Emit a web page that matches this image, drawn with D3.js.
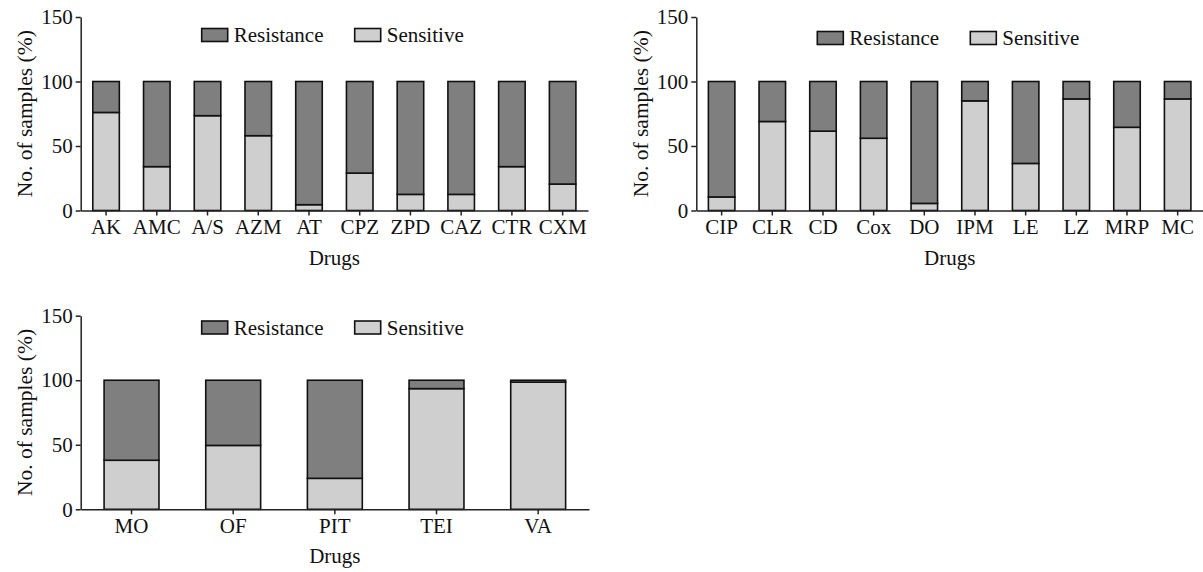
<!DOCTYPE html>
<html>
<head>
<meta charset="utf-8">
<script src="https://cdn.jsdelivr.net/npm/d3@7"></script>
<style>
body { margin: 0; background: #fff; }
svg text { font-family: "Liberation Serif", "Times New Roman", serif; fill: #111; }
</style>
</head>
<body>
<script>
// drugs for each panel
var drugsA = ["AK", "AMC", "A/S", "AZM", "AT", "CPZ", "ZPD", "CAZ", "CTR", "CXM"];
var sensA  = [76, 34, 73.5, 58, 4.5, 29, 12.5, 12.5, 34, 20.5];
var resA   = [24, 66, 26.5, 42, 95.5, 71, 87.5, 87.5, 66, 79.5];

var drugsB = ["CIP", "CLR", "CD", "Cox", "DO", "IPM", "LE", "LZ", "MRP", "MC"];
var sensB  = [10.5, 69, 61.5, 56, 5.5, 85, 36.5, 86.5, 64.5, 86.5];
var resB   = [89.5, 31, 38.5, 44, 94.5, 15, 63.5, 13.5, 35.5, 13.5];

var drugsC = ["MO", "OF", "PIT", "TEI", "VA"];
var sensC  = [38, 49.5, 24, 93.5, 98.5];
var resC   = [62, 50.5, 76, 6.5, 1.5];

var yTicks = [0, 50, 100, 150];
var seriesNames = ["Resistance", "Sensitive"];
var colors = { Resistance: "#7f7f7f", Sensitive: "#cfcfcf" };

var W = 1203, H = 572;
var svg = d3.select("body").append("svg")
	.attr("width", W)
	.attr("height", H);

function panel(opt) {
	var g = svg.append("g");
	var x = d3.scaleBand()
		.domain(opt.drugs)
		.range([opt.x0, opt.x1])
		.paddingInner(opt.pad)
		.paddingOuter(opt.pad / 2);
	var y = d3.scaleLinear().domain([0, 150]).range([opt.y0, opt.y1]);

	var rows = opt.drugs.map(function(d, i) {
		return { drug: d, Sensitive: opt.sens[i], Resistance: opt.res[i] };
	});
	var stacked = d3.stack().keys(["Sensitive", "Resistance"])(rows);

	g.selectAll("g.layer")
		.data(stacked)
		.enter()
		.append("g")
		.attr("fill", function(s) { return colors[s.key]; })
		.selectAll("rect")
		.data(function(s) { return s; })
		.enter()
		.append("rect")
		.attr("x", function(d) { return x(d.data.drug); })
		.attr("y", function(d) { return y(d[1]); })
		.attr("width", x.bandwidth())
		.attr("height", function(d) { return y(d[0]) - y(d[1]); })
		.attr("stroke", "#111")
		.attr("stroke-width", 1.6);

	var ya = g.append("g")
		.attr("transform", "translate(" + opt.x0 + ",0)")
		.call(d3.axisLeft(y).tickValues(yTicks).tickSize(5).tickSizeOuter(0).tickPadding(3));
	ya.selectAll("text").attr("font-size", "21px");

	var xa = g.append("g")
		.attr("transform", "translate(0," + opt.y0 + ")")
		.call(d3.axisBottom(x).tickSize(5).tickSizeOuter(0).tickPadding(4));
	xa.selectAll("text").attr("font-size", "21px");

	g.selectAll(".domain, .tick line").attr("stroke", "#222").attr("stroke-width", 1.5);
	g.selectAll(".tick text").attr("fill", "#111").attr("font-family", "Liberation Serif");

	g.append("text")
		.attr("transform", "translate(" + opt.titleX + "," + ((opt.y0 + opt.y1) / 2) + ") rotate(-90)")
		.attr("text-anchor", "middle")
		.attr("dy", "0.35em")
		.attr("font-size", "21.5px")
		.text("No. of samples (%)");

	g.append("text")
		.attr("x", (opt.x0 + opt.x1) / 2)
		.attr("y", opt.y0 + 54)
		.attr("text-anchor", "middle")
		.attr("font-size", "21px")
		.text("Drugs");

	// legend
	var lg = g.selectAll("g.leg")
		.data(seriesNames)
		.enter()
		.append("g")
		.attr("transform", function(d, i) {
			return "translate(" + (opt.x0 + 121 + i * 153) + "," + opt.legY + ")";
		});
	lg.append("rect")
		.attr("x", 0)
		.attr("y", -6.5)
		.attr("width", 26)
		.attr("height", 13)
		.attr("fill", function(d) { return colors[d]; })
		.attr("stroke", "#111")
		.attr("stroke-width", 1.6);
	lg.append("text")
		.attr("x", 32)
		.attr("dy", "0.35em")
		.attr("font-size", "21px")
		.text(function(d) { return d; });
}

panel({ drugs: drugsA, sens: sensA, res: resA, x0: 80.7, x1: 588, y0: 210.5, y1: 17, pad: 0.477, titleX: 24, legY: 35 });
panel({ drugs: drugsB, sens: sensB, res: resB, x0: 696.3, x1: 1203, y0: 210.5, y1: 17, pad: 0.477, titleX: 640, legY: 38 });
panel({ drugs: drugsC, sens: sensC, res: resC, x0: 80.7, x1: 589, y0: 509.3, y1: 315.7, pad: 0.46, titleX: 24, legY: 327.5 });
</script>
</body>
</html>
